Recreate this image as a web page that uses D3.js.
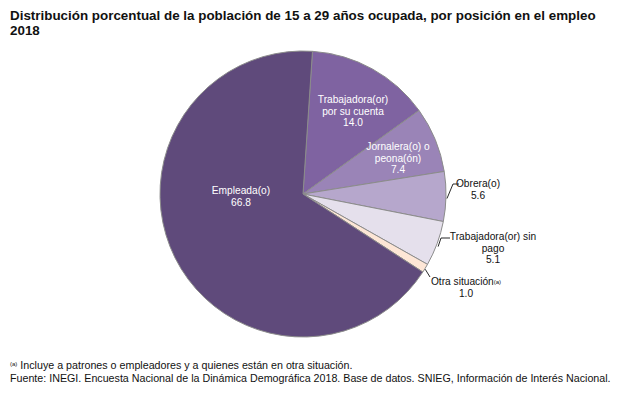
<!DOCTYPE html>
<html><head><meta charset="utf-8">
<script src="https://cdn.jsdelivr.net/npm/d3@7"></script>
<style>body{margin:0;background:#fff;}svg{font-family:"Liberation Sans",Arial,sans-serif;}</style>
</head><body>
<svg id="c" width="631" height="396"></svg>
<script>
const categories = ["Trabajadora(or) por su cuenta","Jornalera(o) o peona(ón)","Obrera(o)","Trabajadora(or) sin pago","Otra situación","Empleada(o)"];
const values = [14.0, 7.4, 5.6, 5.1, 1.0, 66.8];
const colors = ["#7f63a1","#9a84b7","#b6a7cc","#e5e0ec","#fde6d6","#5f4a7b"];
const labelLines = [
  ["Trabajadora(or)","por su cuenta","14.0"],
  ["Jornalera(o) o","peona(ón)","7.4"],
  ["Obrera(o)","5.6"],
  ["Trabajadora(or) sin","pago","5.1"],
  ["Otra situación","1.0"],
  ["Empleada(o)","66.8"]
];
const svg = d3.select("#c");
const cx = 303, cy = 194, r = 143;
const start = 3.8 * Math.PI / 180;
const pie = d3.pie().sort(null).value(d => d).startAngle(start).endAngle(start + 2*Math.PI);
const arcs = pie(values);
const arc = d3.arc().innerRadius(0).outerRadius(r);
const g = svg.append("g").attr("transform", `translate(${cx},${cy})`);
g.selectAll("path").data(arcs).join("path")
  .attr("d", arc).attr("fill", (d,i) => colors[i])
  .attr("stroke", "#8c8c8c").attr("stroke-width", 1);

// Title
svg.append("text").attr("x", 10).attr("y", 20).attr("font-size", 13.4).attr("font-weight", "bold").attr("fill", "#111")
  .text("Distribución porcentual de la población de 15 a 29 años ocupada, por posición en el empleo");
svg.append("text").attr("x", 10).attr("y", 35).attr("font-size", 13.4).attr("font-weight", "bold").attr("fill", "#111")
  .text("2018");

const fs = 10.2, lh = 11.6;
// inside labels: [index, center x, first baseline y]
const inside = [[0, 353, 103], [1, 398, 150], [5, 241, 194]];
inside.forEach(([i, x, y]) => {
  const t = svg.append("text").attr("font-size", fs).attr("fill", "#fff").attr("text-anchor","middle");
  labelLines[i].forEach((l,k) => t.append("tspan").attr("x", x).attr("y", y + k*lh).text(l));
});

// Outside labels with leader lines
const outside = [
  {i:2, tx:478, ty:187},
  {i:3, tx:493, ty:240},
  {i:4, tx:466, ty:285}
];
outside.forEach(o => {
  const a = arcs[o.i];
  const mid = (a.startAngle + a.endAngle)/2;
  const ex = cx + Math.sin(mid)*r, ey = cy - Math.cos(mid)*r;
  const lines = labelLines[o.i];
  const t = svg.append("text").attr("font-size", fs).attr("fill", "#111").attr("text-anchor","middle");
  lines.forEach((l,k) => {
    t.append("tspan").attr("x", o.tx).attr("y", o.ty + k*lh).text(l);
    if (o.i === 4 && k === 0) {
      t.append("tspan").attr("font-size", 6).attr("dy", -1).text("(a)");
    }
  });
  let pts;
  if (o.i === 2) pts = [[ex+1, ey+2],[453, 184],[459, 184]];
  else if (o.i === 3) pts = [[ex+1, ey+3],[441, 238],[450, 238]];
  else pts = [[ex, ey+1],[430, 277]];
  svg.append("path").attr("d", d3.line()(pts)).attr("fill","none").attr("stroke","#111").attr("stroke-width",0.9);
});

// Footnotes
const f1 = svg.append("text").attr("x", 10).attr("y", 369).attr("font-size", 10.7).attr("fill", "#111");
f1.append("tspan").attr("font-size", 6).attr("dy", -3).text("(a)");
f1.append("tspan").attr("dy", 3).text(" Incluye a patrones o empleadores y a quienes están en otra situación.");
svg.append("text").attr("x", 10).attr("y", 382).attr("font-size", 10.7).attr("fill", "#111")
  .text("Fuente: INEGI. Encuesta Nacional de la Dinámica Demográfica 2018. Base de datos. SNIEG, Información de Interés Nacional.");
</script>
</body></html>
